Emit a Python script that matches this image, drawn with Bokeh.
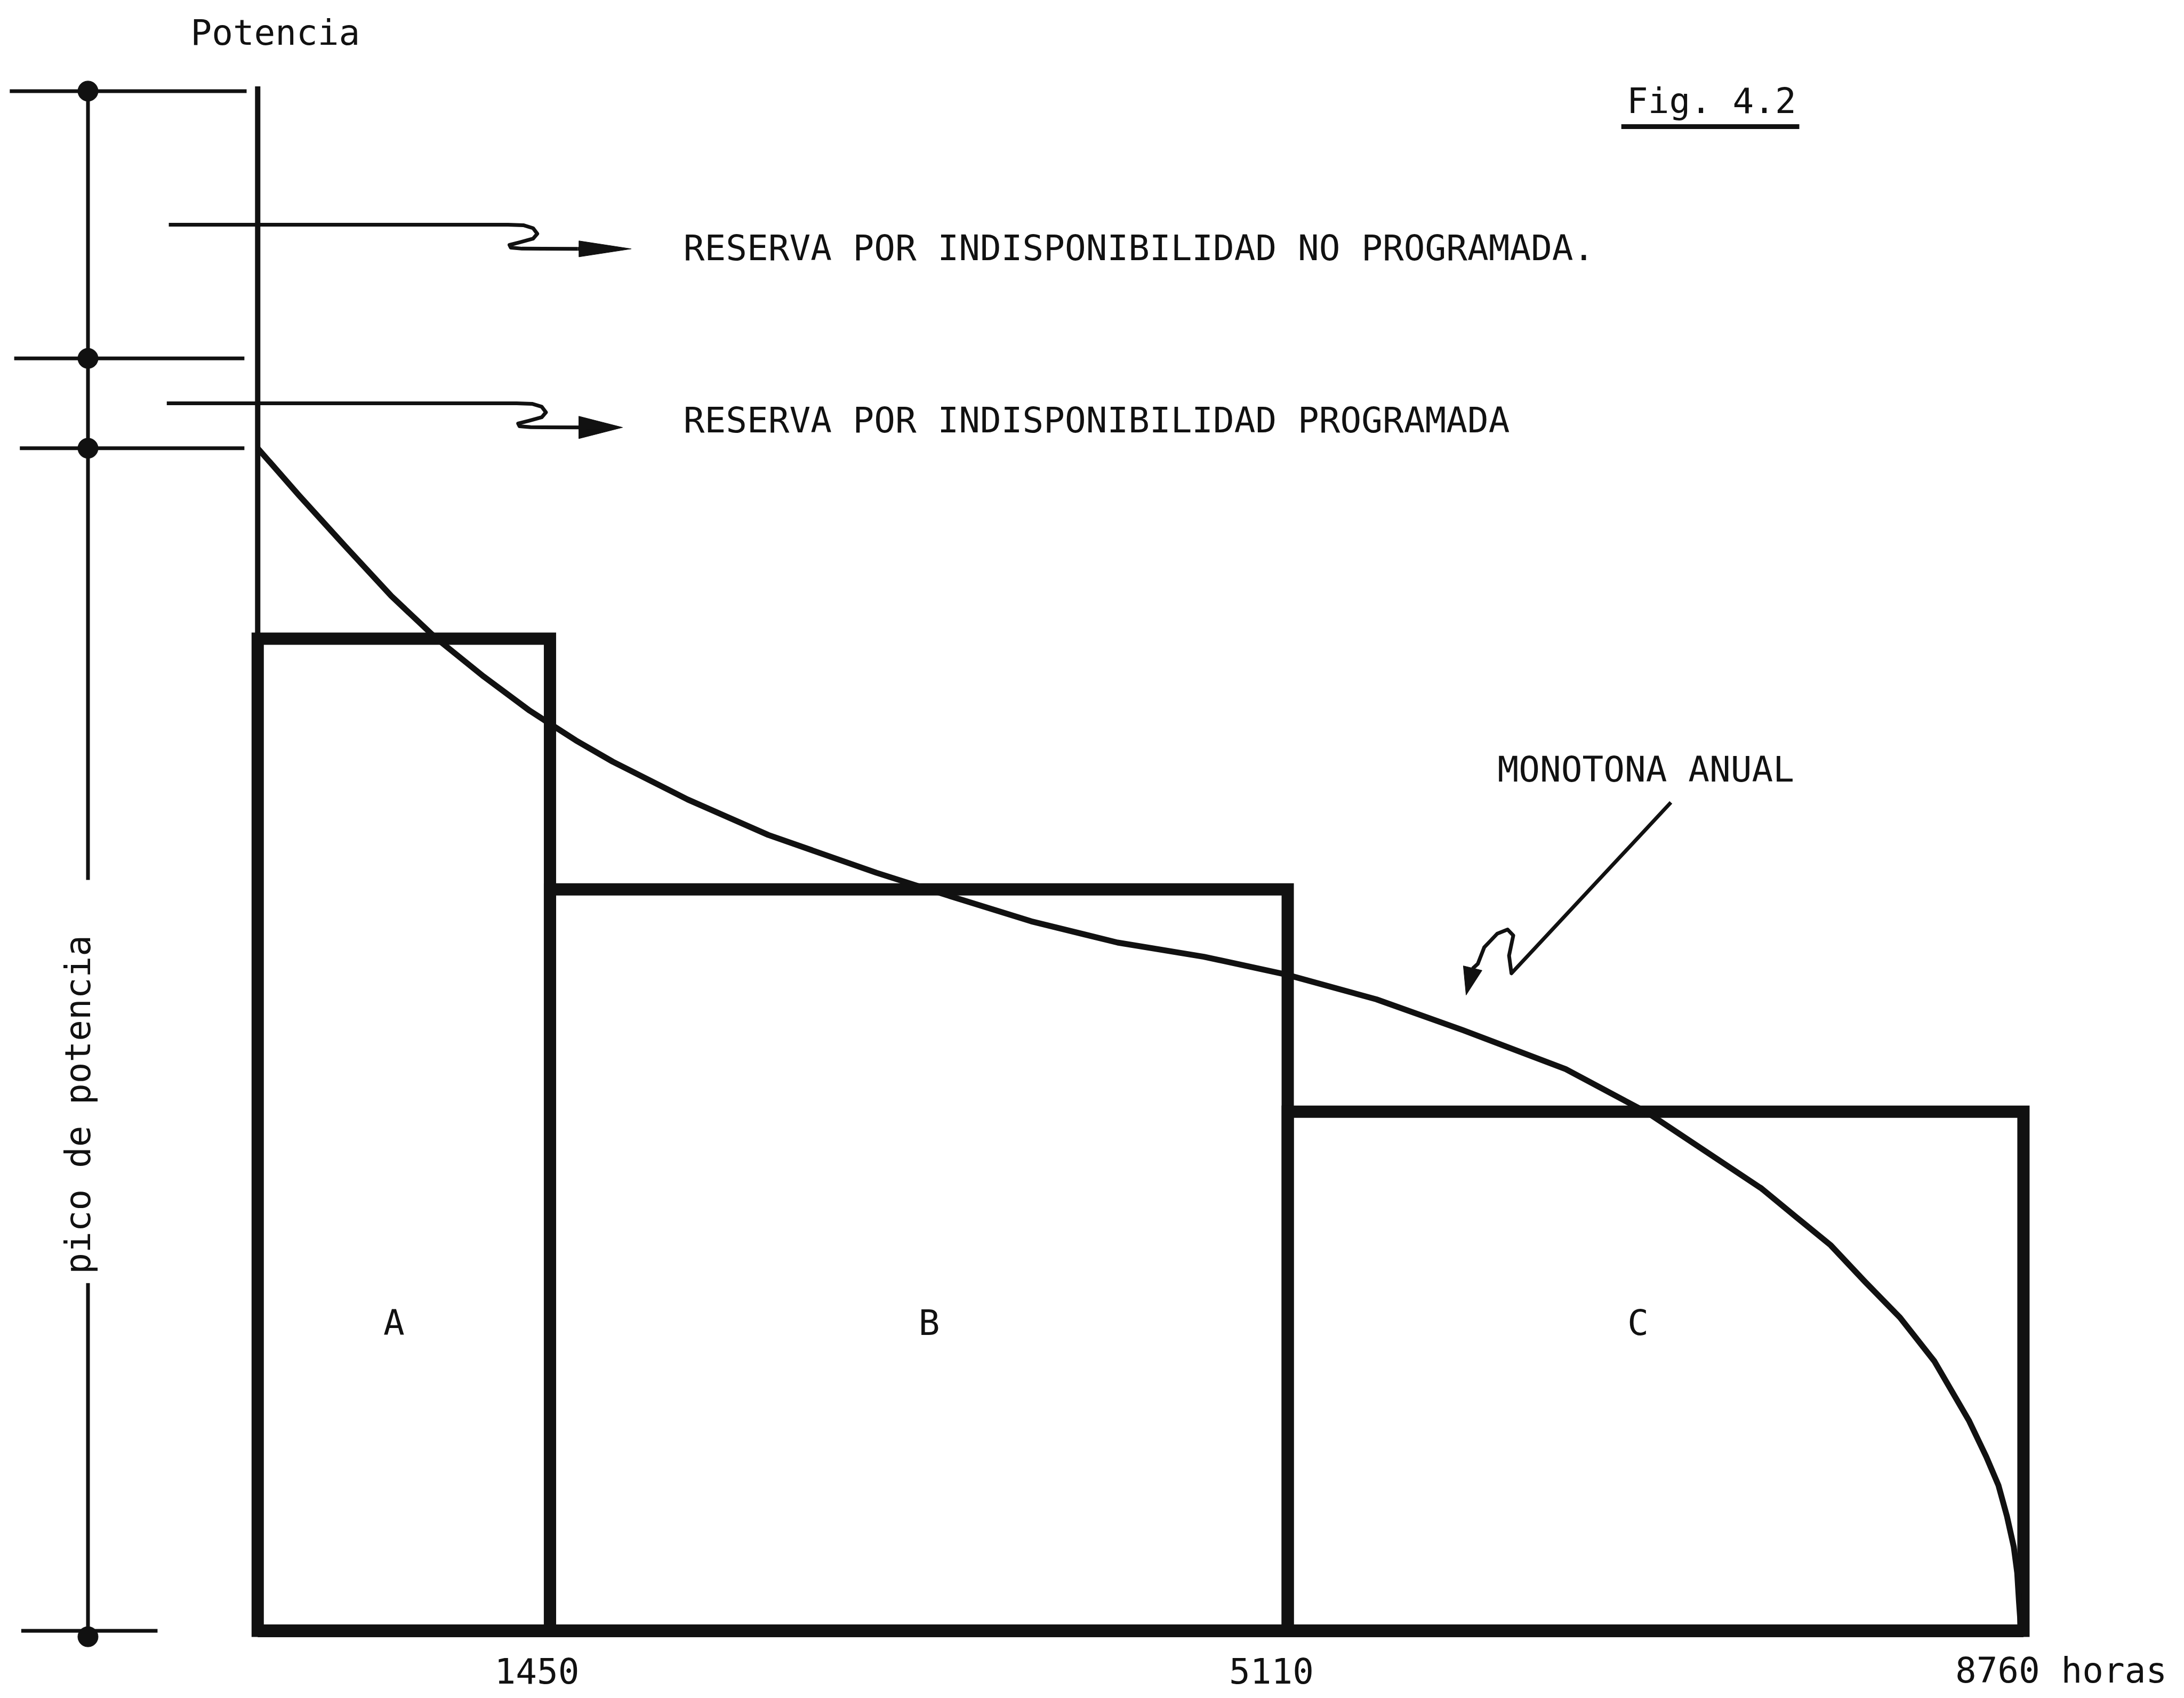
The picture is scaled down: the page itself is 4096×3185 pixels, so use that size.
import math
from bokeh.plotting import figure
from bokeh.core.properties import value
from bokeh.embed import file_html
from bokeh.resources import INLINE

# ---------------- data ----------------
hours_edges = [0, 1450, 5110, 8760]            # block boundaries (horas)
block_power = [83.9, 62.7, 43.9]               # block heights (% of peak)
block_names = ["A", "B", "C"]
block_label_hours = [676, 3331, 6848]
block_label_power = [25.1, 25.1, 25.1]

curve_hours = [0, 206, 435, 663, 881, 1121, 1350, 1578, 1761, 2133, 2533, 3070,
               3365, 3837, 4266, 4694, 5101, 5550, 5978, 6489, 6896, 7461, 7632,
               7804, 7975, 8147, 8318, 8489, 8576, 8636, 8678, 8712, 8729, 8738, 8748]
curve_power = [100, 96.0, 91.7, 87.5, 84.0, 80.7, 77.8, 75.3, 73.5, 70.3, 67.3, 64.1,
               62.5, 60.0, 58.2, 57.0, 55.5, 53.4, 50.8, 47.5, 43.8, 37.4, 35.0,
               32.6, 29.5, 26.5, 22.8, 17.8, 14.7, 12.3, 9.7, 7.1, 4.9, 2.4, 0]

peak_power = 100.0
reserve_programada = 107.6
reserve_no_programada = 130.2
dimension_levels = [reserve_no_programada, reserve_programada, peak_power, 0.0]

tick_hours = [1450, 5110, 8760]
tick_labels = ["1450", "5110", "8760 horas"]

reserve_texts = ["RESERVA POR INDISPONIBILIDAD NO PROGRAMADA.",
                 "RESERVA POR INDISPONIBILIDAD PROGRAMADA"]
y_title = "Potencia"
dim_title = "pico de potencia"
curve_title = "MONOTONA ANUAL"
fig_title = "Fig. 4.2"

# ---------------- layout ----------------
W, H = 4096, 3185
PXH = 0.378037                     # px per hour
PXP = 22.182                       # px per power unit
X0 = -482.8 / PXH
X1 = X0 + W / PXH
Y0 = -(H - 3058.5) / PXP
Y1 = Y0 + H / PXP
TXT = 0.94                         # text baseline correction (power units)

FONT = value("DejaVu Sans Mono")
FS = "66px"
INK = "#111111"

p = figure(width=W, height=H, x_range=(X0, X1), y_range=(Y0, Y1),
           output_backend="svg", toolbar_location=None,
           x_axis_location=None, y_axis_location=None, min_border=0)
p.grid.visible = False
p.outline_line_color = None
p.background_fill_color = "white"
p.border_fill_color = "white"


def label(x, y, text, align="left", angle=0.0, **kw):
    if angle:
        x = [xx - TXT * PXP / PXH for xx in x]
    else:
        y = [yy + TXT for yy in y]
    p.text(x=x, y=y, text=text, text_font=FONT, text_font_size=FS, text_align=align,
           text_baseline="alphabetic", text_color=INK, angle=angle, **kw)


# main vertical axis (thin)
p.segment(x0=[0], y0=[130.6], x1=[0], y1=[0], line_color=INK, line_width=10)

# blocks A, B, C
p.quad(left=hours_edges[:-1], right=hours_edges[1:], top=block_power,
       bottom=[0] * len(block_power), fill_alpha=0, line_color=INK,
       line_width=23, line_join="miter")
# baseline
p.segment(x0=[hours_edges[0]], y0=[0], x1=[hours_edges[-1]], y1=[0],
          line_color=INK, line_width=24)

# load duration curve
p.line(curve_hours, curve_power, line_color=INK, line_width=11, line_join="round")

# block labels
label(block_label_hours, block_label_power, block_names, align="center")

# tick labels
label(tick_hours, [-4.3] * 3, tick_labels, x_offset=[-104, -110, -128])

# left dimension marks
dim_x = -842
p.segment(x0=[-1230, -1208, -1180, -1173], y0=dimension_levels,
          x1=[-55, -66, -66, -497], y1=dimension_levels, line_color=INK, line_width=7)
p.segment(x0=[dim_x, dim_x], y0=[reserve_no_programada, 29.4], x1=[dim_x, dim_x],
          y1=[63.5, -0.5], line_color=INK, line_width=7)
p.scatter(x=[dim_x] * 4, y=[130.2, 107.6, 100.0, -0.5], size=38, color=INK)
label([-835], [44.5], [dim_title], align="center", angle=math.pi / 2)

# axis title
label([-333], [134.2], [y_title])

# figure label
label([6792], [128.4], [fig_title])
p.segment(x0=[6765], y0=[127.2], x1=[7648], y1=[127.2], line_color=INK, line_width=9)


def head(tip_x, tip_y, dx_px, dy_px, length_px, half_px):
    n = math.hypot(dx_px, dy_px)
    ux, uy = dx_px / n, dy_px / n
    bx, by = -ux * length_px, -uy * length_px
    px_, py_ = -uy * half_px, ux * half_px
    xs = [tip_x, tip_x + (bx + px_) / PXH, tip_x + (bx - px_) / PXH]
    ys = [tip_y, tip_y + (by + py_) / PXP, tip_y + (by - py_) / PXP]
    return xs, ys


# squiggle shape (hours offset, power drop)
sq_dh = [0, 76, 124, 145, 124, 62, 7, 14, 69, 345]
sq_dp = [0, 0.04, 0.29, 0.76, 1.18, 1.47, 1.71, 1.94, 2.02, 2.04]

reserve_arrows = [
    dict(start=-441, end=1242, level=(reserve_no_programada + reserve_programada) / 2,
         tip=1853, hl=98, hw=15),
    dict(start=-451, end=1285, level=(reserve_programada + peak_power) / 2,
         tip=1810, hl=82, hw=21),
]
text_baselines = [116.0, 101.4]
for a, t, tb in zip(reserve_arrows, reserve_texts, text_baselines):
    xs = [a["start"]] + [a["end"] + d for d in sq_dh]
    ys = [a["level"]] + [a["level"] - d for d in sq_dp]
    p.line(xs, ys, line_color=INK, line_width=7, line_join="round")
    tip_y = ys[-1]
    hx, hy = head(a["tip"], tip_y, 1, 0, a["hl"], a["hw"])
    p.patch(hx, hy, color=INK)
    p.segment(x0=[xs[-1]], y0=[tip_y], x1=[a["tip"] - 100], y1=[tip_y],
              line_color=INK, line_width=7)
    label([2112], [tb], [t])

# MONOTONA ANUAL label + pointer
label([6151], [71.9], [curve_title])
mono_h = [7011, 6220, 6208, 6229, 6201, 6150, 6085, 6053, 6027]
mono_p = [70.05, 55.6, 57.1, 58.8, 59.3, 58.96, 57.8, 56.4, 56.0]
p.line(mono_h, mono_p, line_color=INK, line_width=7, line_join="round")
tipx, tipy = 5995, 53.76
hx, hy = head(tipx, tipy, (tipx - mono_h[-1]) * PXH, (tipy - mono_p[-1]) * PXP, 52, 18)
p.patch(hx, hy, color=INK)

open("out.html", "w").write(file_html(p, INLINE))
